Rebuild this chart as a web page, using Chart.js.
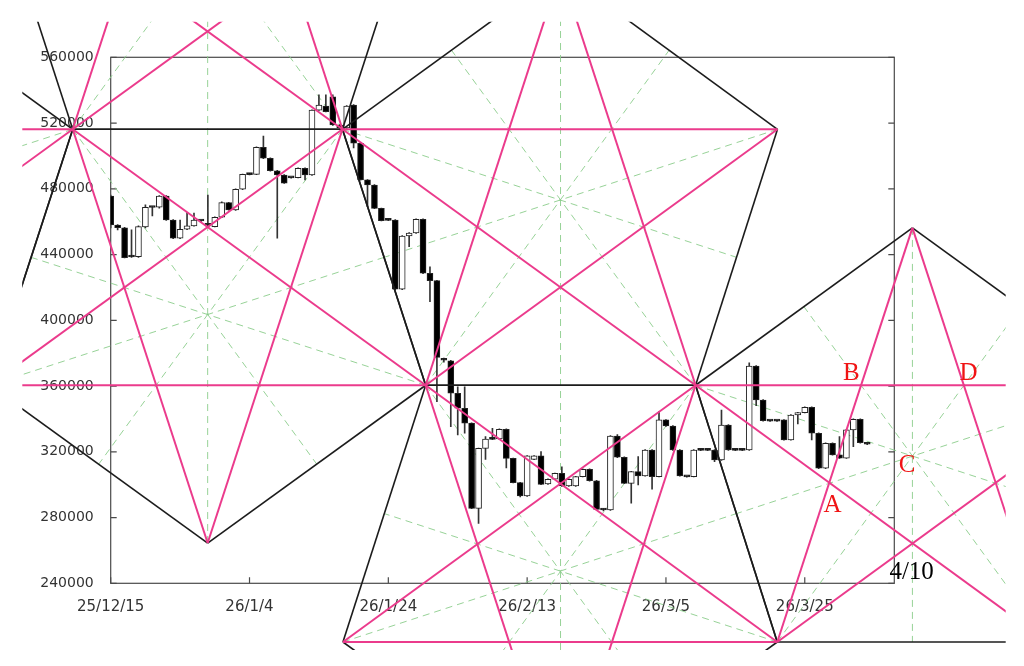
<!DOCTYPE html>
<html>
<head>
<meta charset="utf-8">
<script src="https://cdn.jsdelivr.net/npm/chart.js@4.4.1/dist/chart.umd.min.js"></script>
<style>
  html, body { margin: 0; padding: 0; background: #fff; }
  #wrap { width: 1024px; height: 666px; }
</style>
</head>
<body>
<div id="wrap"><canvas id="chart" width="1024" height="666"></canvas></div>
<script>
// x axis counts days from 25/12/15, one candle per day
const xTickLabels = ['25/12/15', '26/1/4', '26/1/24', '26/2/13', '26/3/5', '26/3/25'];
const xTickDays = [0, 20, 40, 60, 80, 100];
const yTicks = [240000, 280000, 320000, 360000, 400000, 440000, 480000, 520000, 560000];

// daily candles
const open = [
  475600, 458000, 456300, 438700, 438700, 456800, 468800, 468800, 475600, 461000,
  449900, 455400, 457400, 460600, 458000, 457000, 462700, 471600, 467100, 479700,
  488800, 488800, 505300, 498600, 491000, 488400, 486800, 486800, 492500, 488400,
  527900, 530400, 536000, 518800, 517000, 531000, 507700, 485400, 482300, 468100,
  461000, 461000, 418900, 451300, 453100, 461500, 428600, 424100, 375900, 375400,
  355600, 346500, 337400, 285600, 322100, 327800, 327800, 333700, 316000, 301200,
  293100, 315400, 317500, 300400, 303300, 306900, 299200, 299200, 304900, 309400,
  302400, 284800, 284600, 329600, 316700, 300800, 307900, 305300, 321100, 304900,
  339400, 335700, 321100, 304900, 304900, 321100, 321100, 321100, 315000, 336300,
  321100, 321100, 321100, 372200, 351500, 338900, 338900, 339400, 327200, 342400,
  343800, 347100, 331300, 310000, 325200, 318100, 316100, 333300, 339800, 324800
];
const high = [
  476200, 458200, 456500, 455000, 457400, 470200, 469000, 475800, 475800, 461200,
  461000, 465500, 465300, 461000, 476200, 463000, 472000, 471800, 480000, 489000,
  489200, 505500, 512100, 498800, 491200, 488600, 487000, 492700, 492700, 528100,
  537100, 537100, 537100, 519000, 530600, 531200, 507900, 485600, 482500, 468300,
  461200, 461200, 451500, 453300, 461700, 461700, 432600, 424300, 377000, 375600,
  359600, 359600, 337600, 322300, 329200, 334300, 334000, 334000, 316200, 301400,
  317700, 317700, 320100, 303500, 307100, 310900, 303500, 305100, 309600, 309600,
  302600, 285500, 329800, 330500, 316900, 308100, 317100, 321300, 321300, 344400,
  339600, 335900, 321300, 305100, 321300, 321300, 321300, 321300, 345400, 336500,
  321300, 321300, 374200, 372400, 351700, 339100, 339100, 339600, 342600, 344000,
  347300, 347300, 331500, 325400, 325400, 329200, 333500, 340000, 340000, 325000
];
const low = [
  456200, 455000, 437900, 438200, 438300, 456200, 463500, 468200, 460800, 449600,
  449600, 455200, 457200, 459800, 457000, 456800, 462500, 467000, 466900, 479500,
  488400, 488600, 498400, 490800, 449900, 483200, 486400, 486600, 485400, 488200,
  527700, 526700, 518600, 516800, 516800, 504800, 485200, 469100, 467900, 460400,
  460600, 418700, 418700, 444800, 452900, 428400, 411300, 350500, 374500, 335300,
  330200, 331300, 285400, 276500, 315400, 327400, 327600, 310200, 301000, 292600,
  292900, 315200, 300000, 300200, 303100, 299000, 299000, 299000, 304700, 302200,
  284600, 284000, 284400, 316500, 300600, 288700, 299800, 305100, 297200, 304700,
  335500, 320900, 305100, 304500, 304700, 320700, 320700, 314000, 314800, 320900,
  320700, 320700, 320900, 348000, 338700, 338500, 338500, 327000, 327000, 336900,
  343600, 327200, 309800, 309800, 317900, 315900, 315900, 323100, 325300, 324400
];
const close = [
  458000, 456300, 438100, 438500, 457000, 468800, 468600, 475600, 461000, 449900,
  455400, 457400, 461000, 460400, 457800, 462700, 471600, 467100, 479700, 488800,
  488600, 505300, 498600, 491000, 488400, 483400, 486600, 492500, 488400, 527900,
  531000, 526900, 518800, 517000, 530400, 507700, 485400, 482300, 468100, 460600,
  460800, 418900, 451300, 453100, 461500, 428600, 424100, 377400, 375700, 355600,
  346500, 337400, 285600, 322100, 327800, 327600, 333700, 316000, 301200, 293100,
  317500, 317500, 300200, 303300, 306900, 299200, 303300, 304900, 309400, 302400,
  285000, 284600, 329600, 316700, 300800, 307900, 305300, 321100, 304900, 339400,
  335700, 321100, 305300, 304700, 321100, 320900, 320900, 315000, 336300, 321100,
  320900, 320900, 372200, 351500, 338900, 338700, 338700, 327200, 342400, 343800,
  347100, 331300, 310000, 325200, 318100, 316100, 333300, 339800, 325500, 324600
];

// pivots of the pentagon figure (day offset, price)
const pivotNames = ['P1', 'P2', 'P7', 'T', 'GA', 'GL0', 'GR0', 'VA', 'GLL', 'GLB',
  'W', 'P3', 'P4', 'V1', 'B1', 'B2', 'BOT', 'R', 'BR', 'RR',
  'm1', 'm2', 'm3', 'm4', 'm5', 'm6', 'm7', 'm8', 'm9', 'm10',
  'm11', 'm12', 'm13', 'm14', 'm15', 'm16', 'm17', 'm18'];
const pivotDays = [-5.47, 33.39, 96.07, 64.81, 13.97, -17.46, 45.38, -36.83, -68.23, -56.27,
  -17.46, 45.38, 84.27, 13.97, 33.46, 96.04, 64.81, 115.51, 135.0, 146.8,
  29.67, -1.74, -11.46, 39.39, 29.68, -1.74, -62.25, 49.1, 80.46, 90.19,
  80.43, 49.16, 39.42, 90.16, 115.51, 99.88, 131.17, 140.9];
const pivotPrices = [516200, 516200, 516200, 612500, 768200, 672100, 672100, 612500, 516200, 360500,
  360500, 360500, 360500, 264500, 204300, 204300, 108200, 456200, 204300, 360500,
  312600, 312400, 438300, 438300, 720200, 720200, 438300, 564300, 564300, 438300,
  156200, 156200, 282400, 282400, 204300, 408300, 408300, 282400];

// pentagons: edges drawn black, diagonals pink
const pentagons = [
  ['P1', 'VA', 'GLL', 'GLB', 'W'],
  ['P2', 'P1', 'GL0', 'GA', 'GR0'],
  ['P1', 'P2', 'P3', 'V1', 'W'],
  ['T', 'P7', 'P4', 'P3', 'P2'],
  ['P3', 'P4', 'B2', 'BOT', 'B1'],
  ['R', 'RR', 'BR', 'B2', 'P4']
];
// green dashed lines through the pentagon centres
const centreLines = [
  ['V1', 'GA'], ['P1', 'm1'], ['P2', 'm2'], ['P3', 'm3'], ['W', 'm4'],
  ['P1', 'm5'], ['P2', 'm6'], ['P1', 'm7'], ['T', 'BOT'], ['P7', 'm4'],
  ['P4', 'm8'], ['P3', 'm9'], ['P2', 'm10'], ['P3', 'm11'], ['P4', 'm12'],
  ['B2', 'm13'], ['B1', 'm14'], ['R', 'm15'], ['RR', 'm14'], ['BR', 'm16'],
  ['B2', 'm17'], ['P4', 'm18']
];

const noteTexts = ['A', 'B', 'C', 'D', '4/10'];
const noteDays = [104.0, 106.7, 114.76, 123.6, 115.4];
const notePrices = [287600, 367800, 312000, 367900, 246900];
const noteColors = ['#f01414', '#f01414', '#f01414', '#f01414', '#000'];

const PINK = '#eb3b8c';
const BLACK = '#1c1c1c';
const GREEN = 'rgba(140, 205, 140, 0.9)';
const overlayClip = { left: 88.4, top: 35.6, right: 111.4, bottom: 66.7 };

function pivot(name) {
  const i = pivotNames.indexOf(name);
  return { x: pivotDays[i], y: pivotPrices[i] };
}

function segment(a, b, color, width, dash, order) {
  return {
    type: 'line',
    data: [pivot(a), pivot(b)],
    borderColor: color,
    borderWidth: width,
    borderDash: dash,
    pointRadius: 0,
    pointHoverRadius: 0,
    fill: false,
    tension: 0,
    order: order,
    clip: overlayClip
  };
}

// build datasets
const days = open.map((_, i) => i);
const datasets = [];

centreLines.forEach(([a, b]) => datasets.push(segment(a, b, GREEN, 1, [7, 5], 5)));

datasets.push({
  type: 'bar',
  data: days.map((d, i) => ({ x: d, y: [low[i], high[i]] })),
  backgroundColor: '#333',
  borderWidth: 0,
  barThickness: 1,
  grouped: false,
  order: 4
});
datasets.push({
  type: 'bar',
  data: days.map((d, i) => ({ x: d, y: [Math.min(open[i], close[i]), Math.max(open[i], close[i])] })),
  backgroundColor: days.map(i => close[i] >= open[i] ? '#fff' : '#000'),
  borderColor: '#222',
  borderWidth: 1,
  borderSkipped: false,
  barThickness: 6,
  minBarLength: 2,
  grouped: false,
  order: 3
});

pentagons.forEach(p => {
  for (let i = 0; i < 5; i++) {
    datasets.push(segment(p[i], p[(i + 1) % 5], BLACK, 1.6, [], 2));
  }
});
pentagons.forEach(p => {
  for (let i = 0; i < 5; i++) {
    datasets.push(segment(p[i], p[(i + 2) % 5], PINK, 2, [], 1));
  }
});

// frame box with inward ticks
const framePlugin = {
  id: 'frame',
  beforeDatasetsDraw(chart) {
    const { ctx, chartArea: a, scales: { x, y } } = chart;
    ctx.save();
    ctx.strokeStyle = '#4a4a4a';
    ctx.lineWidth = 1.2;
    ctx.strokeRect(a.left, a.top, a.right - a.left, a.bottom - a.top);
    ctx.beginPath();
    yTicks.forEach(v => {
      const py = y.getPixelForValue(v);
      ctx.moveTo(a.left, py); ctx.lineTo(a.left + 6, py);
      ctx.moveTo(a.right, py); ctx.lineTo(a.right - 6, py);
    });
    xTickDays.forEach(d => {
      const px = x.getPixelForValue(d);
      ctx.moveTo(px, a.bottom); ctx.lineTo(px, a.bottom - 6);
    });
    ctx.stroke();
    ctx.restore();
  }
};

// letters and date note
const notePlugin = {
  id: 'notes',
  afterDatasetsDraw(chart) {
    const { ctx, scales: { x, y } } = chart;
    ctx.save();
    ctx.font = '25px "Liberation Serif", "DejaVu Serif", serif';
    ctx.textAlign = 'center';
    ctx.textBaseline = 'middle';
    noteTexts.forEach((t, i) => {
      ctx.fillStyle = noteColors[i];
      ctx.fillText(t, x.getPixelForValue(noteDays[i]), y.getPixelForValue(notePrices[i]));
    });
    ctx.restore();
  }
};

Chart.defaults.font.family = '"DejaVu Sans", sans-serif';

new Chart(document.getElementById('chart'), {
  type: 'bar',
  data: { datasets: datasets },
  options: {
    responsive: false,
    devicePixelRatio: 1,
    animation: false,
    events: [],
    layout: { padding: { left: 0, top: 57.3, right: 129.7, bottom: 0 } },
    plugins: { legend: { display: false }, tooltip: { enabled: false } },
    scales: {
      x: {
        type: 'linear',
        offset: false,
        bounds: 'data',
        afterDataLimits: (scale) => { scale.min = 0; scale.max = 112.9; },
        afterFit: (scale) => { scale.height = 82.7; },
        grid: { display: false, drawTicks: false, offset: false },
        border: { display: false },
        ticks: {
          stepSize: 20,
          autoSkip: false,
          maxRotation: 0,
          padding: 15,
          color: '#333',
          font: { size: 15 },
          callback: (v) => {
            const i = xTickDays.indexOf(v);
            return i >= 0 ? xTickLabels[i] : '';
          }
        }
      },
      y: {
        min: 240000,
        max: 560000,
        afterFit: (scale) => { scale.width = 110.7; },
        grid: { display: false, drawTicks: false },
        border: { display: false },
        ticks: {
          stepSize: 40000,
          padding: 17,
          color: '#333',
          font: { size: 14 },
          callback: (v) => String(v)
        }
      }
    }
  },
  plugins: [framePlugin, notePlugin]
});
</script>
</body>
</html>
